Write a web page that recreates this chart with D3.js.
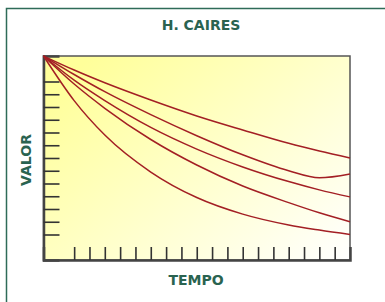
<!DOCTYPE html>
<html>
<head>
<meta charset="utf-8">
<script src="https://cdn.jsdelivr.net/npm/d3@7"></script>
<style>
  body { margin: 0; background: #fff; }
  svg { display: block; }
  .lbl { font-family: "DejaVu Sans", Verdana, sans-serif; font-weight: bold; fill: #2a6350; }
</style>
</head>
<body>
<svg id="chart" width="385" height="302"></svg>
<script>
// time steps (x) and the five decay curves (y)
var tempo = [0, 2, 4, 7, 10, 13, 16, 18, 20];
var curva1 = [16, 14.9, 13.9, 12.55, 11.3, 10.2, 9.15, 8.55, 8.0];
var curva2 = [16, 14.55, 13.2, 11.4, 9.75, 8.25, 7.0, 6.45, 6.75];
var curva3 = [16, 14.1, 12.5, 10.4, 8.7, 7.3, 6.15, 5.5, 4.95];
var curva4 = [16, 13.8, 11.9, 9.45, 7.45, 5.8, 4.5, 3.7, 3.0];
var curva5 = [16, 12.5, 9.8, 6.9, 4.9, 3.6, 2.75, 2.35, 2.0];
var series = [curva1, curva2, curva3, curva4, curva5];

var xTicks = d3.range(2, 20);
var yTicks = d3.range(2, 15);

var titulo = "H. CAIRES";
var xLabel = "TEMPO";
var yLabel = "VALOR";

var svg = d3.select("#chart");

var plot = {left: 43.5, top: 56, right: 350, bottom: 260};

// outer frame, runs off the window to the right and bottom
svg.append("rect")
    .attr("x", 6.5).attr("y", 8.5)
    .attr("width", 420).attr("height", 320)
    .attr("fill", "none")
    .attr("stroke", "#2e6b58")
    .attr("stroke-width", 1.5);

var defs = svg.append("defs");
var grad = defs.append("linearGradient")
    .attr("id", "bg")
    .attr("x1", "0").attr("y1", "0.2")
    .attr("x2", "1").attr("y2", "1");
grad.append("stop").attr("offset", "0").attr("stop-color", "#ffff9a");
grad.append("stop").attr("offset", "1").attr("stop-color", "#ffffff");

var x = d3.scaleLinear().domain([0, 20]).range([plot.left, plot.right]);
var y = d3.scaleLinear().domain([0, 16]).range([plot.bottom, plot.top]);

svg.append("rect")
    .attr("x", plot.left).attr("y", plot.top)
    .attr("width", plot.right - plot.left)
    .attr("height", plot.bottom - plot.top)
    .attr("fill", "url(#bg)")
    .attr("stroke", "#555")
    .attr("stroke-width", 1.5);

// ticks point inward
var yAxis = svg.append("g")
    .attr("transform", "translate(" + plot.left + ",0)")
    .call(d3.axisLeft(y).tickValues(yTicks).tickSize(-16).tickFormat(""));
var xAxis = svg.append("g")
    .attr("transform", "translate(0," + plot.bottom + ")")
    .call(d3.axisBottom(x).tickValues(xTicks).tickSize(-13).tickFormat(""));
[yAxis, xAxis].forEach(function(g) {
    g.select(".domain").attr("stroke", "#444").attr("stroke-width", 2.5);
    g.selectAll(".tick line").attr("stroke", "#333").attr("stroke-width", 1.6);
});

var line = d3.line()
    .x(function(d, i) { return x(tempo[i]); })
    .y(function(d) { return y(d); })
    .curve(d3.curveMonotoneX);

svg.selectAll(".curva")
    .data(series)
    .enter().append("path")
    .attr("class", "curva")
    .attr("d", line)
    .attr("fill", "none")
    .attr("stroke", "#a31f24")
    .attr("stroke-width", 1.5);

svg.append("text").attr("class", "lbl")
    .attr("x", 201).attr("y", 30)
    .attr("text-anchor", "middle")
    .style("font-size", "14px")
    .text(titulo);

svg.append("text").attr("class", "lbl")
    .attr("x", 196).attr("y", 285)
    .attr("text-anchor", "middle")
    .style("font-size", "14px")
    .text(xLabel);

svg.append("text").attr("class", "lbl")
    .attr("transform", "translate(31,160) rotate(-90)")
    .attr("text-anchor", "middle")
    .style("font-size", "14px")
    .text(yLabel);
</script>
</body>
</html>
